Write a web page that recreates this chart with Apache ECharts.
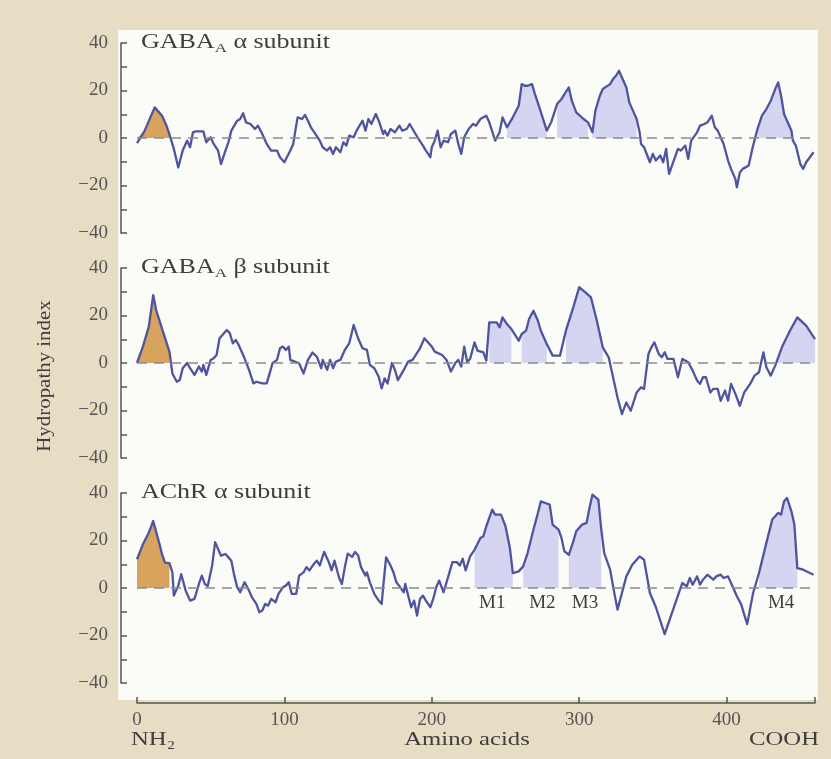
<!DOCTYPE html>
<html>
<head>
<meta charset="utf-8">
<script src="https://cdn.jsdelivr.net/npm/echarts@6/dist/echarts.min.js"></script>
<style>
html,body{margin:0;padding:0;background:#e7ddc4;}
#chart{width:831px;height:759px;}
</style>
</head>
<body>
<div id="chart"></div>
<script>
// ---------- DATA ----------
const panelTitles = [['GABA', 'A', ' α subunit'], ['GABA', 'A', ' β subunit'], ['AChR', '', ' α subunit']];

const gabaAlphaX = [0,5,12,17,20,22,25,28,31,34,36,38,40,45,47,50,52,55,57,60,62,64,68,70,72,74,77,80,82,85,88,91,95,97,100,104,106,108,109,112,114,116,118,121,124,126,129,131,133,135,138,140,142,144,147,149,151,153,155,157,159,162,164,167,168,170,172,175,178,180,183,185,187,189,191,194,196,199,200,202,204,206,208,211,213,216,218,220,222,225,228,230,233,235,237,239,243,246,248,251,255,259,261,263,265,268,270,273,278,281,285,288,290,293,295,298,303,306,309,311,314,316,321,323,325,327,330,332,334,337,339,341,342,344,348,350,352,355,357,359,361,365,367,369,372,374,376,380,382,385,387,390,392,394,398,401,403,406,407,409,411,415,418,421,424,427,430,433,435,437,439,442,444,445,447,450,452,454,459];
const gabaAlphaY = [-2.2,2.8,12.9,9.4,5.2,1.5,-4.6,-12.4,-5.3,-1.1,-3.9,2.4,2.8,2.8,-1.8,0.3,-2.5,-5.3,-11,-5.3,-1.8,3.1,7.3,8,10.4,6.6,5.9,3.8,5.2,1.7,-2.5,-5.3,-5.3,-8.1,-10.2,-5.3,-2.5,5.2,8.7,8,9.7,7.3,4.5,1.7,-1.1,-3.9,-5.3,-3.9,-6.7,-3.9,-6,-1.8,-3.2,1,0.3,3.1,5.2,7.3,3.1,8,5.9,10.1,7.3,1.7,3.1,1,3.8,2.4,5.2,3.1,3.8,5.9,3.8,1.7,-0.4,-3.2,-5.3,-8.1,-3.9,-1.1,3.1,-3.9,-1.1,-1.8,1.7,3.1,-2.5,-6.7,0.3,3.8,5.9,5.2,8,8.7,9.4,6.6,-1.1,2.4,8.7,4.5,8.7,13.6,22.7,22,22,22.7,18.5,12.9,3.1,6.6,14.3,16.4,18.5,21.3,15.7,10.8,8,6.6,2.4,11.5,17.8,20.6,22.7,24.8,26.2,28.3,24.1,21.3,15,10.8,8,2.4,-2.5,-3.9,-10.2,-6.7,-9.5,-7.4,-10.2,-4.6,-15.1,-8.1,-4.6,-5.3,-3.2,-8.8,-1.1,2.4,5.2,5.9,6.6,9.4,4.5,3.1,-2.5,-9.5,-13,-17.3,-20.8,-14.5,-13,-11.6,-3.2,3.8,9.4,12.2,15.7,20.6,23.4,17.8,10.1,5.9,3.1,-1.1,-3.2,-10.9,-13,-10.2,-6];

const gabaBetaX = [0,4,8,11,13,18,22,24,27,29,31,34,36,39,42,44,45,47,50,52,54,56,59,61,63,65,67,69,72,76,79,81,85,88,90,92,95,97,99,101,103,104,107,110,113,116,119,122,125,126,129,131,133,135,138,141,144,147,150,153,156,158,161,164,166,168,170,173,175,177,181,184,187,192,195,198,200,202,207,210,213,216,218,220,222,224,226,229,231,235,237,239,244,246,248,251,254,259,261,264,266,269,272,274,278,282,287,291,296,300,304,308,312,316,320,323,326,329,332,335,339,342,344,347,349,351,354,356,358,360,364,367,370,374,377,380,382,384,386,389,391,394,396,399,401,403,406,409,412,416,419,422,425,427,430,433,438,443,448,454,460];
const gabaBetaY = [0,6.9,15.3,28.6,22.3,12.5,4.8,-4.4,-7.9,-7.2,-2.2,0,-2.2,-5,-1.5,-3.6,-0.8,-5,1.3,2,3.4,10.4,12.5,13.9,12.5,8.3,9.7,7.6,3.4,-2.9,-8.6,-7.9,-8.6,-8.6,-4.4,0,1.3,6.2,6.9,5.5,6.9,1.3,0.6,-0.1,-4.4,1.3,4.4,2.7,-2.2,1.3,-2.9,1.3,-2.2,0.6,1.3,5.5,8.3,16,10.4,6.2,5.5,-0.8,-2.2,-5.8,-10.7,-6.5,-8.6,0,-2.9,-7.2,-2.9,0.6,1.3,6.2,10.4,8.3,6.9,4.8,3.4,1.3,-3.6,0,1.3,-1.5,6.9,0.5,1.7,8.7,5.2,4.5,1,17.1,17.1,15,19.2,16.4,14.3,9.4,12.2,13.6,18.5,22,17.8,13.6,8,3.1,3.1,13.6,23.4,31.9,29.8,27.6,17.8,6.6,2.4,-6,-14.5,-21.5,-16.6,-20.1,-12.4,-10.2,-10.9,3.8,6.6,8.7,3.8,2.4,4.5,1.7,1.7,-6,1.7,0.3,-3.2,-7.4,-8.8,-6,-6,-12.4,-10.9,-10.9,-15.9,-11.6,-15.9,-8.8,-13,-18,-12.4,-8.8,-5.3,-3.9,4.5,-1.8,-5.3,-1.1,7.3,13.6,19.2,15.7,10.1];

const achrAlphaX = [0,4,8,11,15,17,19,22,24,25,28,30,33,36,39,42,44,46,48,51,53,55,57,60,62,64,66,68,70,73,76,78,81,83,85,87,89,91,94,96,99,101,103,105,108,110,113,115,117,120,122,124,127,130,132,134,137,139,141,143,146,148,150,152,155,156,158,161,164,166,167,169,172,174,176,178,181,182,184,186,188,190,192,194,196,199,201,203,205,208,210,212,214,217,219,221,223,226,229,233,235,237,239,241,243,247,250,253,255,259,262,265,269,272,274,277,280,282,286,288,290,293,296,298,302,305,307,309,313,315,317,321,323,326,329,332,336,341,344,348,352,358,368,370,373,375,377,380,382,384,387,391,393,396,398,401,404,407,410,412,414,418,422,427,431,435,437,439,441,444,446,448,452,459];
const achrAlphaY = [12.1,18.4,23.3,28.2,19.1,14.2,10.7,10.5,6.6,-3.2,1,5.8,-1.1,-5.3,-4.6,1.7,5.2,1.7,0.8,9.5,19.3,16.4,13.6,14.3,12.9,11.5,5.2,0.3,-1.8,2.4,-1.1,-3.9,-6.7,-10.2,-9.5,-6.7,-7.4,-4.6,-6,-2.5,0.3,1,2.4,-2.5,-2.5,5.2,6.6,8.8,7.4,10.1,11.5,9.5,15.2,11.1,7.4,11.5,4.5,1.7,8.8,14.5,13.1,15.2,13.8,8.8,5.2,6.6,2.4,-2.5,-5.3,-6.7,0.3,12.9,9.5,6.6,2.4,0.8,-1.8,1.7,-3.2,-8.1,-5.3,-11.6,-4.6,-3.2,-5.3,-8.1,-4.6,0.3,3.1,-1.8,2.4,6.6,10.9,10.9,9.5,12.3,7.4,13.3,16.1,21.1,21.8,26,29.5,33,30.9,30.9,26,16.8,6.3,7,9.1,14.7,24.6,31.6,36.5,35.8,35.1,26.7,24.6,21.1,15.4,14,19.6,23.9,26.7,27.4,33.7,39.3,37.2,24.6,14.7,7.7,0.7,-9.1,-2.1,4.9,9.8,13.3,11.9,-2.1,-8,-19.4,-1.4,2.1,0.7,4.2,1.4,4.9,1.4,3.5,5.6,3.5,4.9,5.6,4.2,4.9,0.7,-3.5,-7,-11.2,-15.2,-2.1,6.3,19,28.8,31.6,30.9,36.5,37.9,32.3,26.7,8.4,7.7,5.6];

// shaded stretches (amino-acid ranges)
const gabaAlphaOrange = [[0, 23]];
const gabaAlphaPurple = [[250, 279], [284, 307], [309, 340], [420, 444]];
const gabaBetaOrange = [[0, 23]];
const gabaBetaPurple = [[238, 257], [260, 280], [290, 318], [433, 461]];
const achrAlphaOrange = [[0, 23]];
const achrAlphaPurple = [[228, 256], [262, 286], [292, 316], [420, 450]];

const segLabels = ['M1', 'M2', 'M3', 'M4'];
const segLabelX = [241, 275, 304, 437];
const segLabelY = -6.5;

const xTickValues = [0, 100, 200, 300, 400];
const yTickValues = [-40, -20, 0, 20, 40];

// ---------- STYLE ----------
const FONT = 'Liberation Serif';
const LINE = '#4f549f';
const PURPLE = '#d5d5f1';
const ORANGE = '#d8a35c';
const AXIS = '#555555';
const TXT = '#3e3e3e';
const WIDE = 1.3;

const panels = [
  {xs: gabaAlphaX, ys: gabaAlphaY, orange: gabaAlphaOrange, purple: gabaAlphaPurple},
  {xs: gabaBetaX, ys: gabaBetaY, orange: gabaBetaOrange, purple: gabaBetaPurple},
  {xs: achrAlphaX, ys: achrAlphaY, orange: achrAlphaOrange, purple: achrAlphaPurple}
];
const gridTops = [43, 268, 493];

const grids = gridTops.map(t => ({left: 137, width: 678, top: t, height: 190}));

const xAxes = gridTops.map((t, i) => {
  const last = i === 2;
  return {
    gridIndex: i, type: 'value', min: 0, max: 460, interval: 100,
    show: last, offset: 20,
    axisLine: {show: true, onZero: false, lineStyle: {color: AXIS, width: 1.5}},
    axisTick: {show: true, inside: true, length: 6, customValues: [0, 100, 200, 300, 400, 460], lineStyle: {color: AXIS, width: 1.5}},
    axisLabel: {show: true, customValues: xTickValues, margin: 8, fontFamily: FONT, fontSize: 19, color: '#555'},
    splitLine: {show: false}
  };
});

const yAxes = gridTops.map((t, i) => ({
  gridIndex: i, type: 'value', min: -40, max: 40, interval: 10, offset: 16,
  axisLine: {show: true, onZero: false, lineStyle: {color: AXIS, width: 1.5}},
  axisTick: {show: true, inside: true, length: 6, lineStyle: {color: AXIS, width: 1.5}},
  axisLabel: {
    show: true, customValues: yTickValues, margin: 13, fontFamily: FONT, fontSize: 19, color: '#555',
    formatter: v => (v < 0 ? '\u2212' + (-v) : String(v))
  },
  splitLine: {show: false}
}));

const series = [];
function fillData(xs, ys, a, b) {
  const out = [];
  for (let k = 0; k < xs.length; k++) {
    if (xs[k] >= a && xs[k] <= b) out.push([xs[k], Math.max(ys[k], 0)]);
  }
  return out;
}
panels.forEach((p, i) => {
  const addFill = (ranges, color) => ranges.forEach(r => {
    series.push({
      type: 'line', xAxisIndex: i, yAxisIndex: i, z: 2,
      data: fillData(p.xs, p.ys, r[0], r[1]),
      showSymbol: false, silent: true,
      lineStyle: {width: 0, opacity: 0},
      areaStyle: {color: color, opacity: 1}
    });
  });
  addFill(p.orange, ORANGE);
  addFill(p.purple, PURPLE);
  const main = {
    type: 'line', xAxisIndex: i, yAxisIndex: i, z: 4,
    data: p.xs.map((x, k) => [x, p.ys[k]]),
    showSymbol: false, silent: true,
    lineStyle: {color: LINE, width: 2.3, join: 'round'},
    markLine: {
      silent: true, symbol: ['none', 'none'], label: {show: false},
      lineStyle: {type: [10, 7], color: '#8a8a8a', width: 1.5},
      data: [{yAxis: 0}]
    }
  };
  if (i === 2) {
    main.markPoint = {
      symbol: 'circle', symbolSize: 1, silent: true,
      itemStyle: {color: 'rgba(0,0,0,0)'},
      label: {show: true, position: 'inside', formatter: '{b}', fontFamily: FONT, fontSize: 19, color: TXT},
      data: segLabels.map((t, k) => ({name: t, coord: [segLabelX[k], segLabelY]}))
    };
  }
  series.push(main);
});

const graphic = [
  {type: 'rect', z: -100, silent: true, shape: {x: 118, y: 30, width: 700, height: 670}, style: {fill: '#fbfbf8'}}
];
panelTitles.forEach((t, i) => {
  const text = t[1] ? '{m|' + t[0] + '}{s|' + t[1] + '}{m|' + t[2] + '}' : '{m|' + t[0] + t[2] + '}';
  graphic.push({
    type: 'text', x: 141, y: gridTops[i], z: 10, silent: true, scaleX: WIDE,
    style: {
      text: text, align: 'left', verticalAlign: 'middle',
      rich: {
        m: {fontFamily: FONT, fontSize: 20, fill: TXT},
        s: {fontFamily: FONT, fontSize: 13, fill: TXT, padding: [12, 0, 0, 0]}
      }
    }
  });
});
graphic.push({
  type: 'text', x: 45, y: 376, rotation: Math.PI / 2, silent: true, scaleX: 1.1,
  style: {text: 'Hydropathy index', align: 'center', verticalAlign: 'middle', fontFamily: FONT, fontSize: 19, fill: TXT}
});
graphic.push({type: 'text', x: 131, y: 740, silent: true, scaleX: WIDE,
  style: {text: 'NH₂', align: 'left', verticalAlign: 'middle', fontFamily: FONT, fontSize: 19, fill: TXT}});
graphic.push({type: 'text', x: 467, y: 740, silent: true, scaleX: WIDE,
  style: {text: 'Amino acids', align: 'center', verticalAlign: 'middle', fontFamily: FONT, fontSize: 19, fill: TXT}});
graphic.push({type: 'text', x: 819, y: 740, silent: true, scaleX: WIDE,
  style: {text: 'COOH', align: 'right', verticalAlign: 'middle', fontFamily: FONT, fontSize: 19, fill: TXT}});

const chart = echarts.init(document.getElementById('chart'), null, {renderer: 'canvas'});
chart.setOption({
  backgroundColor: '#e7ddc4',
  animation: false,
  grid: grids,
  xAxis: xAxes,
  yAxis: yAxes,
  series: series,
  graphic: graphic
});
</script>
</body>
</html>
